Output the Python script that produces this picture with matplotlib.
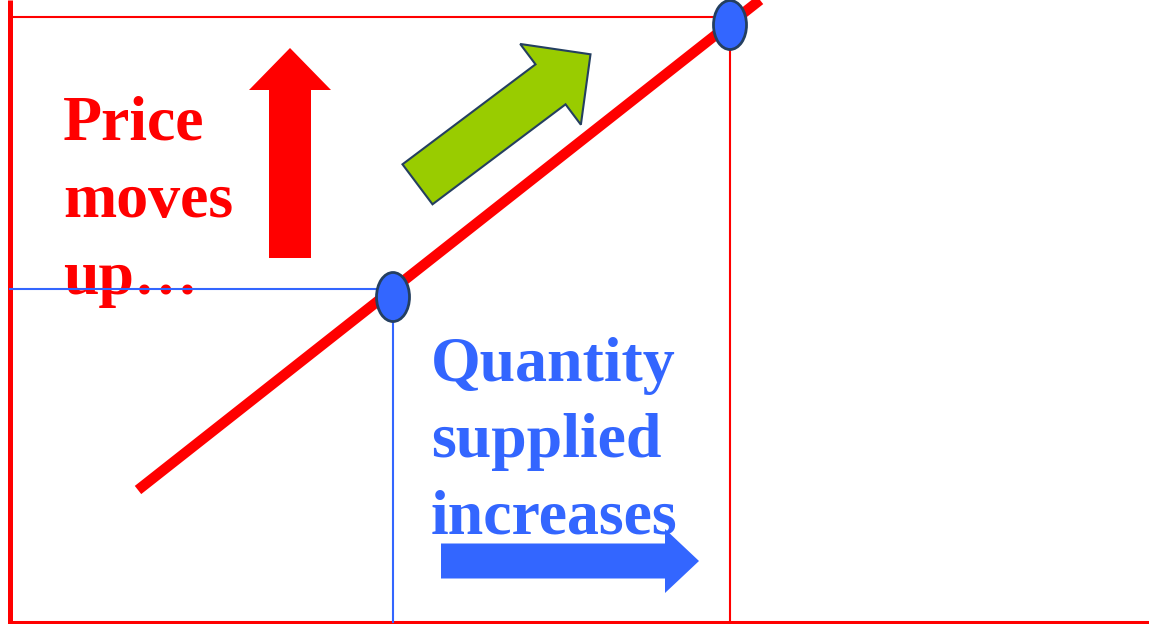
import matplotlib.pyplot as plt
from matplotlib.patches import Ellipse, FancyArrow

# Supply curve and the two price / quantity points on it
supply_q = [128, 750]
supply_p = [132, 622]
quantity = [383, 720]
price = [333, 605]

price_lines = ['Price', 'moves', 'up…']
qty_lines = ['Quantity', 'supplied', 'increases']

RED = '#FF0000'
BLUE = '#3366FF'
GREEN = '#99CC00'
NAVY = '#243F60'

fig = plt.figure(figsize=(11.49, 6.24), dpi=100)
ax = fig.add_axes([0, 0, 1, 1])
ax.set_xlim(-10, 1139)
ax.set_ylim(-2, 622)
ax.axis('off')

# axes of the diagram
ax.plot([0, 0], [-2, 622], color=RED, lw=3.6, solid_capstyle='butt')
ax.plot([0, 1139], [0, 0], color=RED, lw=2.2, solid_capstyle='butt')

# guide lines to the higher price / quantity
ax.plot([0, quantity[1]], [price[1], price[1]], color=RED, lw=1.5)
ax.plot([quantity[1], quantity[1]], [0, price[1]], color=RED, lw=1.5)

# supply curve
ax.plot(supply_q, supply_p, color=RED, lw=7.5, solid_capstyle='butt', zorder=3)

# text labels
font = dict(family='Liberation Serif', weight='bold', fontsize=46)
for i, line in enumerate(price_lines):
    ax.text(53, 482 - 77 * i, line, color=RED, va='baseline', ha='left', zorder=2, **font)
for i, line in enumerate(qty_lines):
    ax.text(421, 241 - 76 * i, line, color=BLUE, va='baseline', ha='left', zorder=2, **font)

# guide lines to the lower price / quantity (drawn over the text)
ax.plot([0, quantity[0]], [price[0], price[0]], color=BLUE, lw=1.5, zorder=4)
ax.plot([quantity[0], quantity[0]], [0, price[0]], color=BLUE, lw=1.5, zorder=4)

# points on the curve, sitting just below the guide lines
for q, p in zip(quantity, price):
    ax.add_patch(Ellipse((q, p - 8), 33, 49, facecolor=BLUE, edgecolor=NAVY,
                         lw=2, zorder=5))

# arrows
ax.add_patch(FancyArrow(280, 364, 0, 210, width=42, head_width=82, head_length=42,
                        length_includes_head=True, color=RED, lw=0, zorder=3))
ax.add_patch(FancyArrow(431, 61, 258, 0, width=35, head_width=64, head_length=34,
                        length_includes_head=True, color=BLUE, lw=0, zorder=3))
ax.add_patch(FancyArrow(407.5, 437.7, 173, 130, width=50, head_width=101, head_length=50,
                        length_includes_head=True, facecolor=GREEN, edgecolor=NAVY,
                        lw=1.5, zorder=3))

fig.savefig('out.png', dpi=100)
